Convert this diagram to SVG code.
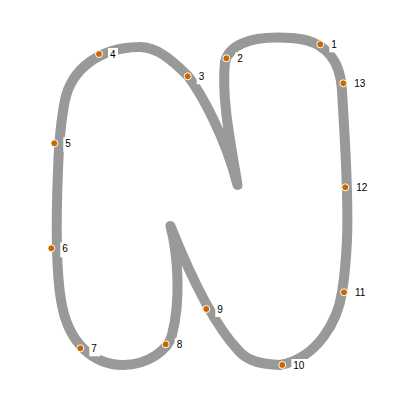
<svg xmlns="http://www.w3.org/2000/svg" width="400" height="400" viewBox="0 0 400 400">
<style>
.stroke{fill:none;stroke:#999;stroke-width:10;stroke-linecap:round;stroke-linejoin:round}
.dot{fill:#cc6600;stroke:#fff;stroke-width:1}
.bg{fill:#fff}
.lbl{font-family:"Liberation Sans",Arial,sans-serif;font-size:10px;fill:#000}
</style>
<rect width="400" height="400" fill="#fff"/>
<g id="outline">
<path class="stroke" d="M237.5,185 C232,150 221,100 225,62 C229,45 250,37.5 277,37.5 C300,37.5 318,40 330,55 C338,64 341,75 342,90 C344,130 349,190 347,240 C346,260 345,275 342,292 C338,320 318,358 280,365 C262,364 248,362 238,350 C222,333 200,300 170.5,226 C178,255 181,300 172,335 C168,350 148,365 123,365 C95,365 68,345 61,300 C56,270 56,220 58,170 C59,140 61,120 65,100 C72,68 100,48 138,47 C155,46 170,58 188,76 C200,92 225,135 237.5,185 Z"/>
</g>
<g id="p1"><rect class="bg" x="329.3" y="38.3" width="10" height="14"/><circle class="dot" cx="320.3" cy="44.3" r="3.5"/><text class="lbl" x="331.3" y="48">1</text></g>
<g id="p2"><rect class="bg" x="235.3" y="52.3" width="10" height="14"/><circle class="dot" cx="226.3" cy="58.3" r="3.5"/><text class="lbl" x="237.3" y="62">2</text></g>
<g id="p3"><rect class="bg" x="196.7" y="70.3" width="10" height="14"/><circle class="dot" cx="187.7" cy="76.3" r="3.5"/><text class="lbl" x="198.7" y="80">3</text></g>
<g id="p4"><rect class="bg" x="108" y="48" width="10" height="14"/><circle class="dot" cx="99" cy="54" r="3.5"/><text class="lbl" x="110" y="57.7">4</text></g>
<g id="p5"><rect class="bg" x="63.3" y="137.3" width="9" height="15"/><circle class="dot" cx="54.3" cy="143.3" r="3.5"/><text class="lbl" x="65.3" y="147">5</text></g>
<g id="p6"><rect class="bg" x="60.3" y="242.3" width="10" height="15"/><circle class="dot" cx="51.3" cy="248.3" r="3.5"/><text class="lbl" x="62.3" y="252">6</text></g>
<g id="p7"><rect class="bg" x="89.3" y="342.3" width="11" height="14"/><circle class="dot" cx="80.3" cy="348.3" r="3.5"/><text class="lbl" x="91.3" y="352">7</text></g>
<g id="p8"><rect class="bg" x="174.7" y="338.3" width="10" height="14"/><circle class="dot" cx="165.7" cy="344.3" r="3.5"/><text class="lbl" x="176.7" y="348">8</text></g>
<g id="p9"><rect class="bg" x="215.3" y="303" width="10" height="14"/><circle class="dot" cx="206.3" cy="309" r="3.5"/><text class="lbl" x="217.3" y="312.7">9</text></g>
<g id="p10"><rect class="bg" x="291.3" y="359" width="16" height="13"/><circle class="dot" cx="282.3" cy="365" r="3.5"/><text class="lbl" x="293.3" y="368.7">10</text></g>
<g id="p11"><rect class="bg" x="353" y="286.3" width="16" height="14"/><circle class="dot" cx="344" cy="292.3" r="3.5"/><text class="lbl" x="355" y="296">11</text></g>
<g id="p12"><rect class="bg" x="354.3" y="181.3" width="16" height="14"/><circle class="dot" cx="345.3" cy="187.3" r="3.5"/><text class="lbl" x="356.3" y="191">12</text></g>
<g id="p13"><rect class="bg" x="352.3" y="77.3" width="16" height="14"/><circle class="dot" cx="343.3" cy="83.3" r="3.5"/><text class="lbl" x="354.3" y="87">13</text></g>
</svg>
